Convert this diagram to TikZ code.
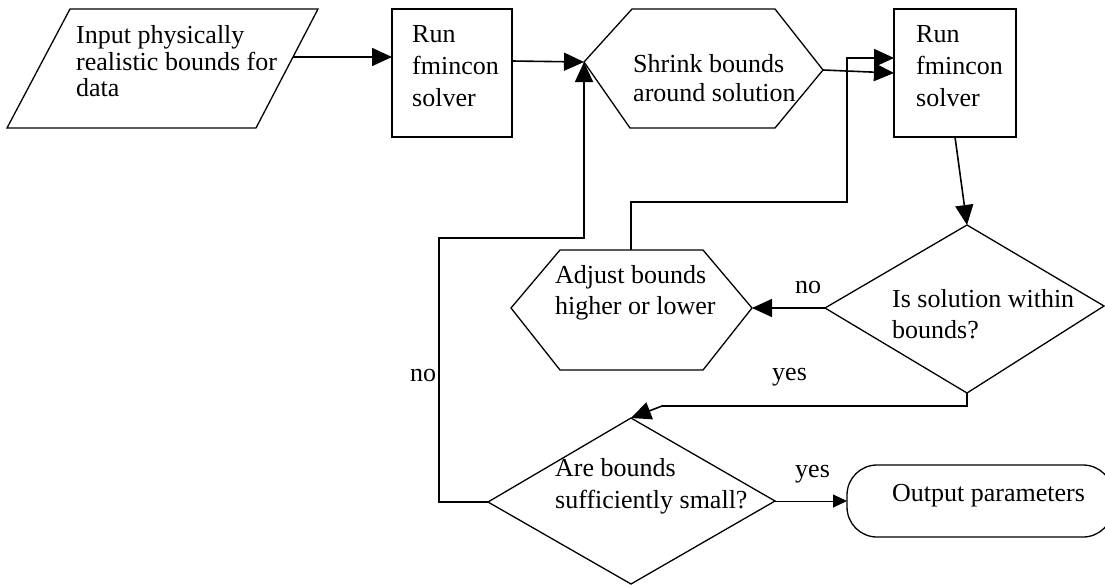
\documentclass[tikz,border=0pt]{standalone}
\usepackage{fontspec}
\setmainfont{Liberation Serif}
\usetikzlibrary{arrows.meta}
\begin{document}
\begin{tikzpicture}[x=1pt,y=-1pt,
  outline/.style={line width=1.3pt, line join=miter},
  conn/.style={line width=1.6pt, -{Triangle[length=20pt,width=18pt]}},
  thinconn/.style={line width=1pt, -{Triangle[length=14pt,width=13pt]}},
  txt/.style={anchor=base west, inner sep=0pt, font=\fontsize{26}{#1}\selectfont},
  txt/.default=31pt,
  lbl/.style={anchor=base west, inner sep=0pt, font=\fontsize{26}{31}\selectfont}
]
\useasboundingbox (0,0) rectangle (1105,586);

% ---- shapes ----
\draw[outline] (70,9) -- (318,9) -- (256,128) -- (7,128) -- cycle;
\draw[outline] (392,9) rectangle (512,137);
\draw[outline] (632,9) -- (775,9) -- (823,70) -- (775,128) -- (630,128) -- (584,62) -- cycle;
\draw[outline] (894,9) rectangle (1016,137);
\draw[outline] (560,250) -- (703,250) -- (752,308) -- (703,370) -- (560,370) -- (511,308) -- cycle;
\draw[outline] (967,225) -- (1104,306) -- (967,393) -- (825,308) -- cycle;
\draw[outline] (631,418) -- (775,501) -- (631,584) -- (488,502) -- cycle;
\draw[outline, rounded corners=30pt] (847,465) rectangle (1113,537);

% ---- texts ----
\node[txt=26.5pt] (inp) at (76,44) {\vtop{\hbox{Input physically}\hbox{realistic bounds for}\hbox{data}}};
\node[txt=32pt] (run1) at (412,43) {\vtop{\hbox{Run}\hbox{fmincon}\hbox{solver}}};
\node[txt=29pt] (shrink) at (633,72) {\vtop{\hbox{Shrink bounds}\hbox{around solution}}};
\node[txt=32pt] (run2) at (916,43) {\vtop{\hbox{Run}\hbox{fmincon}\hbox{solver}}};
\node[txt=31pt] (issol) at (892,307) {\vtop{\hbox{Is solution within}\hbox{bounds?}}};
\node[txt=31pt] (adjust) at (555,283) {\vtop{\hbox{Adjust bounds}\hbox{higher or lower}}};
\node[txt=32pt] (arebd) at (555,476) {\vtop{\hbox{Are bounds}\hbox{sufficiently small?}}};
\node[txt] (output) at (892,501) {Output parameters};

\node[lbl] (nolbl1) at (795,293) {no};
\node[lbl] (yeslbl1) at (772,380) {yes};
\node[lbl] (nolbl2) at (410,381) {no};
\node[lbl] (yeslbl2) at (795,477) {yes};

% ---- connection points ----
\coordinate (inpE) at (293,57);
\coordinate (run1W) at (392,57);
\coordinate (run1E) at (512,61);
\coordinate (shrinkW) at (584,62);
\coordinate (shrinkE) at (823,70);
\coordinate (run2Wa) at (894,58);
\coordinate (run2Wb) at (894,73);
\coordinate (run2S) at (955,137);
\coordinate (issolN) at (967,225);
\coordinate (issolW) at (825,308);
\coordinate (issolS) at (967,393);
\coordinate (adjustN) at (631,250);
\coordinate (adjustE) at (752,308);
\coordinate (arebdN) at (631,418);
\coordinate (arebdW) at (488,502);
\coordinate (arebdE) at (775,501);
\coordinate (outW) at (847,501);

% ---- connectors ----
\draw[conn] (inpE) -- (run1W);
\draw[conn] (run1E) -- (shrinkW);
\draw[conn] (arebdW) -- (439,502) -- (439,238) -- (584,238) -- (shrinkW);
\draw[conn] (shrinkE) -- (run2Wb);
\draw[conn] (adjustN) -- (631,202) -- (847,202) -- (847,58) -- (run2Wa);
\draw[conn] (run2S) -- (issolN);
\draw[conn] (issolW) -- (adjustE);
\draw[conn] (issolS) -- (967,406) -- (662,406) -- (arebdN);
\draw[thinconn] (arebdE) -- (outW);
\end{tikzpicture}
\end{document}
